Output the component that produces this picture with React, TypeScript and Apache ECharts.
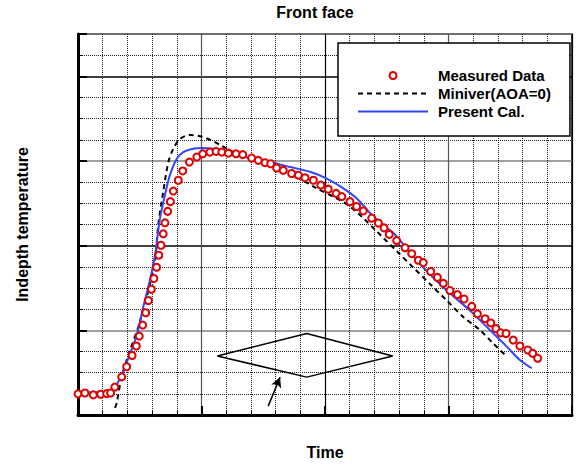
import React, { useEffect, useRef } from "react";
import * as echarts from "echarts";

// Measured Data points [time, temperature]
const measuredData: number[][] = [
  [0.0, 1.0], [0.28, 1.04], [0.62, 0.95], [0.92, 0.98], [1.16, 1.01], [1.32, 1.04],
  [1.49, 1.32], [1.77, 1.8], [1.97, 2.28], [2.19, 2.81], [2.36, 3.26], [2.48, 3.73],
  [2.62, 4.25], [2.74, 4.83], [2.85, 5.41], [2.97, 5.94], [3.07, 6.45], [3.18, 6.98],
  [3.27, 7.55], [3.36, 8.02], [3.45, 8.56], [3.52, 9.08], [3.63, 9.62], [3.74, 10.08],
  [3.86, 10.58], [4.06, 11.09], [4.24, 11.53], [4.51, 11.95], [4.81, 12.19], [5.05, 12.34],
  [5.34, 12.42], [5.59, 12.45], [5.82, 12.42], [6.09, 12.37], [6.4, 12.34], [6.67, 12.3],
  [7.03, 12.14], [7.3, 12.03], [7.57, 11.92], [7.8, 11.87], [8.04, 11.67], [8.31, 11.56],
  [8.65, 11.41], [8.92, 11.33], [9.19, 11.21], [9.53, 11.09], [9.83, 10.86], [10.13, 10.67],
  [10.45, 10.47], [10.68, 10.32], [11.01, 10.08], [11.28, 9.85], [11.55, 9.64], [11.89, 9.3],
  [12.16, 9.07], [12.39, 8.84], [12.6, 8.53], [12.9, 8.24], [13.24, 7.9], [13.51, 7.62],
  [13.78, 7.31], [13.98, 7.2], [14.28, 6.78], [14.55, 6.5], [14.79, 6.22], [15.06, 5.88],
  [15.36, 5.69], [15.63, 5.48], [15.94, 5.13], [16.17, 4.78], [16.48, 4.55], [16.71, 4.35],
  [16.92, 4.08], [17.11, 3.88], [17.33, 3.85], [17.62, 3.54], [17.89, 3.26], [18.21, 3.07],
  [18.41, 2.91], [18.61, 2.68],
];

// Miniver(AOA=0) curve
const miniverData: number[][] = [
  [1.5, 0.34], [1.57, 0.58], [1.77, 1.82], [2.11, 3.07], [2.44, 4.16], [2.85, 5.88],
  [3.12, 7.28], [3.25, 8.99], [3.45, 10.55], [3.66, 11.95], [3.86, 12.58], [4.13, 13.04],
  [4.53, 13.23], [4.94, 13.17], [5.34, 13.01], [5.75, 12.76], [6.15, 12.5], [6.69, 12.26],
  [6.96, 12.11], [7.77, 11.92], [8.04, 11.64], [8.85, 11.25], [9.66, 10.71], [10.47, 10.24],
  [11.01, 9.85], [11.55, 9.3], [12.09, 8.68], [12.36, 8.37], [12.9, 7.75], [13.57, 6.97],
  [14.25, 6.19], [14.93, 5.41], [15.6, 4.63], [16.28, 4.01], [16.81, 3.38], [17.36, 2.76],
];

// Present Cal. curve
const presentData: number[][] = [
  [0.0, 1.07], [1.26, 1.07], [1.43, 1.3], [1.57, 1.45], [1.8, 1.98], [2.11, 2.91],
  [2.38, 3.77], [2.64, 5.1], [2.91, 6.36], [3.12, 7.57], [3.32, 9.3], [3.52, 10.39],
  [3.72, 11.33], [4.0, 12.11], [4.26, 12.42], [4.67, 12.58], [5.01, 12.61], [5.48, 12.58],
  [6.15, 12.42], [6.96, 12.12], [7.77, 11.95], [8.58, 11.72], [9.39, 11.49], [10.07, 11.17],
  [10.74, 10.71], [11.28, 10.24], [11.82, 9.54], [12.36, 8.96], [12.77, 8.6], [13.17, 8.06],
  [13.98, 6.97], [14.93, 5.88], [15.87, 4.94], [16.68, 4.01], [17.36, 3.23], [17.89, 2.6],
  [18.37, 2.21],
];

// Body sketch (diamond) and arrow annotation
const diamondShape: number[][] = [
  [5.64, 2.79], [9.26, 3.85], [12.74, 2.79], [9.26, 1.79], [5.64, 2.79],
];
const arrowFrom: number[] = [7.7, 0.42];
const arrowTo: number[] = [8.18, 1.78];

const legendNames = ["Measured Data", "Miniver(AOA=0)", "Present Cal."];

const FONT = "'Liberation Sans', Arial, sans-serif";
const RED = "#e00000";
const BLUE = "#3344ff";

export default function App() {
  const ref = useRef<HTMLDivElement>(null);

  useEffect(() => {
    document.body.style.margin = "0";
    if (!ref.current) return;
    const chart = echarts.init(ref.current, undefined, { renderer: "svg" });
    chart.setOption({
      animation: false,
      backgroundColor: "#ffffff",
      title: {
        text: "Front face",
        left: 315,
        top: 4,
        padding: 0,
        textAlign: "center",
        textStyle: { fontFamily: FONT, fontWeight: "bold", fontSize: 16, color: "#000" },
      },
      legend: {
        data: [
          { name: legendNames[0] },
          { name: legendNames[1], itemStyle: { opacity: 0 } },
          { name: legendNames[2], itemStyle: { opacity: 0 } },
        ],
        orient: "vertical",
        left: 338,
        top: 43,
        padding: [25, 19, 17, 19],
        itemGap: 3,
        itemWidth: 70,
        itemHeight: 7,
        borderColor: "#000",
        borderWidth: 1.5,
        backgroundColor: "#fff",
        textStyle: {
          fontFamily: FONT,
          fontWeight: "bold",
          fontSize: 15,
          color: "#000",
          padding: [0, 0, 0, 5],
        },
      },
      grid: {
        left: 78,
        right: 9,
        top: 34,
        bottom: 46,
        show: true,
        borderColor: "#000",
        borderWidth: 1.5,
        backgroundColor: "transparent",
      },
      xAxis: {
        type: "value",
        min: 0,
        max: 20,
        interval: 5,
        name: "Time",
        nameLocation: "middle",
        nameGap: 29,
        nameTextStyle: { fontFamily: FONT, fontWeight: "bold", fontSize: 16, color: "#000" },
        axisLine: { show: true, onZero: false, lineStyle: { color: "#000", width: 3 } },
        axisTick: { show: true, inside: true, length: 9, lineStyle: { color: "#000", width: 2 } },
        minorTick: { show: true, splitNumber: 5, length: 4, lineStyle: { color: "#000", width: 1 } },
        axisLabel: { show: false },
        splitLine: { show: true, lineStyle: { color: ["#000", "#555"], width: 1.2 } },
        minorSplitLine: { show: true, lineStyle: { color: "#222", type: [1, 1], width: 1 } },
      },
      yAxis: {
        type: "value",
        min: 0,
        max: 18,
        interval: 4,
        name: "Indepth temperature",
        nameLocation: "middle",
        nameGap: 48,
        nameTextStyle: { fontFamily: FONT, fontWeight: "bold", fontSize: 16, color: "#000" },
        axisLine: { show: true, onZero: false, lineStyle: { color: "#000", width: 3 } },
        axisTick: { show: true, inside: true, length: 9, lineStyle: { color: "#000", width: 2 } },
        minorTick: { show: true, splitNumber: 4, length: 4, lineStyle: { color: "#000", width: 1 } },
        axisLabel: { show: false },
        splitLine: { show: true, lineStyle: { color: ["#000", "#808080"], width: 1.5 } },
        minorSplitLine: { show: true, lineStyle: { color: "#222", type: [1, 1], width: 1 } },
      },
      series: [
        {
          name: "Miniver(AOA=0)",
          type: "line",
          data: miniverData,
          symbol: "none",
          smooth: 0.3,
          lineStyle: { color: "#000", width: 2, type: [5, 4] },
          itemStyle: { color: "#000" },
          z: 3,
        },
        {
          name: "Present Cal.",
          type: "line",
          data: presentData,
          symbol: "none",
          smooth: 0.3,
          lineStyle: { color: BLUE, width: 2 },
          itemStyle: { color: BLUE },
          z: 4,
        },
        {
          name: "Measured Data",
          type: "scatter",
          data: measuredData,
          symbol: "circle",
          symbolSize: 7,
          itemStyle: { color: "#ffffff", borderColor: RED, borderWidth: 2, opacity: 1 },
          z: 5,
        },
        {
          name: "body",
          type: "line",
          data: diamondShape,
          symbol: "none",
          silent: true,
          lineStyle: { color: "#000", width: 1.5 },
          z: 2,
          markLine: {
            silent: true,
            symbol: ["none", "arrow"],
            symbolSize: [8, 10],
            label: { show: false },
            lineStyle: { color: "#000", width: 1.5, type: "solid" },
            data: [[{ coord: arrowFrom }, { coord: arrowTo }]],
          },
        },
      ],
    });
    return () => chart.dispose();
  }, []);

  return <div ref={ref} style={{ width: 581, height: 465 }} />;
}
